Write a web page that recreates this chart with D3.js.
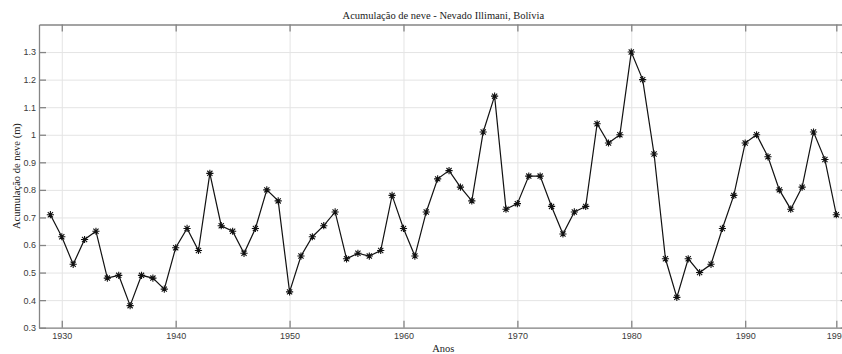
<!DOCTYPE html>
<html>
<head>
<meta charset="utf-8">
<script src="https://cdn.jsdelivr.net/npm/d3@7"></script>
<style>
  html, body { margin: 0; padding: 0; background: #fff; }
  svg { display: block; }
  .tick text { font-family: "Liberation Sans", Arial, sans-serif; font-size: 9px; fill: #3a3a3a; }
  .serif { font-family: "Liberation Serif", "Times New Roman", serif; fill: #222; }
</style>
</head>
<body>
<svg id="chart" width="842" height="354"></svg>
<script>
// Annual snow accumulation, Nevado Illimani (Bolivia), 1929–1998
const years = d3.range(1929, 1999);
const snow = [
  0.71, 0.63, 0.53, 0.62, 0.65, 0.48, 0.49, 0.38, 0.49, 0.48, // 1929–1938
  0.44, 0.59, 0.66, 0.58, 0.86, 0.67, 0.65, 0.57, 0.66, 0.80, // 1939–1948
  0.76, 0.43, 0.56, 0.63, 0.67, 0.72, 0.55, 0.57, 0.56, 0.58, // 1949–1958
  0.78, 0.66, 0.56, 0.72, 0.84, 0.87, 0.81, 0.76, 1.01, 1.14, // 1959–1968
  0.73, 0.75, 0.85, 0.85, 0.74, 0.64, 0.72, 0.74, 1.04, 0.97, // 1969–1978
  1.00, 1.30, 1.20, 0.93, 0.55, 0.41, 0.55, 0.50, 0.53, 0.66, // 1979–1988
  0.78, 0.97, 1.00, 0.92, 0.80, 0.73, 0.81, 1.01, 0.91, 0.71  // 1989–1998
];
const xTicks = [1930, 1940, 1950, 1960, 1970, 1980, 1990, 1998];
const yTicks = [0.3, 0.4, 0.5, 0.6, 0.7, 0.8, 0.9, 1.0, 1.1, 1.2, 1.3];
const xDomain = [1928, 1999];
const yDomain = [0.3, 1.4];

const titleText = "Acumulação de neve - Nevado Illimani, Bolívia";
const xLabel = "Anos";
const yLabel = "Acumulação de neve (m)";

const svg = d3.select("#chart");
const mLeft = 39, mTop = 24.5, mBottom = 327.7;
const x = d3.scaleLinear().domain(xDomain).range([mLeft, mLeft + (xDomain[1] - xDomain[0]) * 11.39]);
const y = d3.scaleLinear().domain(yDomain).range([mBottom, mTop]);
const mRight = x.range()[1];
const w = mRight - mLeft, h = mBottom - mTop;

const fmtY = d => d3.format("~g")(+d.toFixed(1));

// grid
svg.append("g")
  .attr("transform", `translate(0,${mBottom})`)
  .call(d3.axisBottom(x).tickValues(xTicks).tickSize(-h).tickFormat(""))
  .call(g => g.select(".domain").remove())
  .call(g => g.selectAll("line").attr("stroke", "#e4e4e4").attr("stroke-width", 1));
svg.append("g")
  .attr("transform", `translate(${mLeft},0)`)
  .call(d3.axisLeft(y).tickValues(yTicks).tickSize(-w).tickFormat(""))
  .call(g => g.select(".domain").remove())
  .call(g => g.selectAll("line").attr("stroke", "#e4e4e4").attr("stroke-width", 1));

// axes with inward ticks on all four sides
const axisStyle = g => {
  g.select(".domain").attr("stroke", "#858585").attr("stroke-width", 1.3);
  g.selectAll(".tick line").attr("stroke", "#858585").attr("stroke-width", 1.3);
};
svg.append("g").attr("transform", `translate(0,${mBottom})`)
  .call(d3.axisBottom(x).tickValues(xTicks).tickSizeInner(-7).tickSizeOuter(0).tickPadding(5).tickFormat(d3.format("d")))
  .call(axisStyle);
svg.append("g").attr("transform", `translate(0,${mTop})`)
  .call(d3.axisTop(x).tickValues(xTicks).tickSizeInner(-7).tickSizeOuter(0).tickFormat(""))
  .call(axisStyle);
svg.append("g").attr("transform", `translate(${mLeft},0)`)
  .call(d3.axisLeft(y).tickValues(yTicks).tickSizeInner(-7).tickSizeOuter(0).tickPadding(3).tickFormat(fmtY))
  .call(axisStyle);
svg.append("g").attr("transform", `translate(${mRight},0)`)
  .call(d3.axisRight(y).tickValues(yTicks).tickSizeInner(-7).tickSizeOuter(0).tickFormat(""))
  .call(axisStyle);

// series line
const pts = years.map((yr, i) => [yr, snow[i]]);
svg.append("path")
  .datum(pts)
  .attr("fill", "none")
  .attr("stroke", "#111")
  .attr("stroke-width", 1.2)
  .attr("d", d3.line().x(d => x(d[0])).y(d => y(d[1])));

// asterisk markers
const r = 3.6, rd = r * 0.72;
const star = `M${-r},0L${r},0M0,${-r}L0,${r}M${-rd},${-rd}L${rd},${rd}M${-rd},${rd}L${rd},${-rd}`;
svg.append("g").selectAll("path")
  .data(pts)
  .join("path")
  .attr("transform", d => `translate(${x(d[0])},${y(d[1])})`)
  .attr("d", star)
  .attr("fill", "none")
  .attr("stroke", "#111")
  .attr("stroke-width", 1.1);

// labels
svg.append("text").attr("class", "serif")
  .attr("x", (mLeft + mRight) / 2).attr("y", 18.5)
  .attr("text-anchor", "middle").attr("font-size", 10.5)
  .text(titleText);
svg.append("text").attr("class", "serif")
  .attr("x", (mLeft + mRight) / 2).attr("y", 352)
  .attr("text-anchor", "middle").attr("font-size", 10.5)
  .text(xLabel);
svg.append("text").attr("class", "serif")
  .attr("transform", `translate(19.5,${(mTop + mBottom) / 2}) rotate(-90)`)
  .attr("text-anchor", "middle").attr("font-size", 10.5)
  .text(yLabel);
</script>
</body>
</html>
